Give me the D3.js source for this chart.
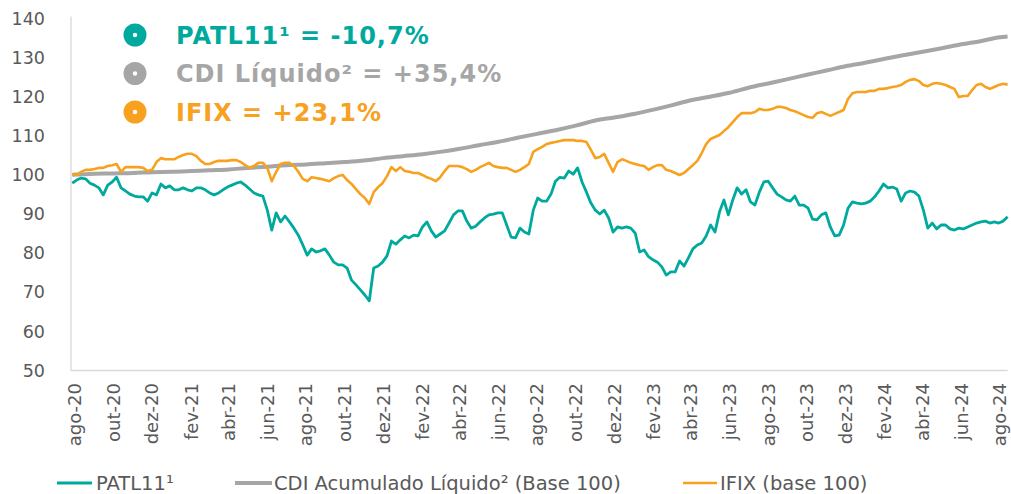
<!DOCTYPE html>
<html>
<head>
<meta charset="utf-8">
<script src="https://cdn.jsdelivr.net/npm/d3@7"></script>
<style>
  html, body { margin: 0; padding: 0; background: #ffffff; }
  svg { display: block; font-family: "DejaVu Sans", Verdana, sans-serif; }
</style>
</head>
<body>
<svg id="chart" width="1011" height="494"></svg>
<script>
// ---------------- DATA ----------------
// Weekly observations starting at this date (PATL11 and IFIX, base 100)
const weeklyStart = "2020-07-28";

const patlValues = [
  97.9,98.7,99.2,99.0,97.9,97.4,96.7,94.9,97.4,98.2,
  99.4,96.7,95.9,95.1,94.6,94.4,94.4,93.3,95.4,94.9,
  97.7,96.7,97.2,96.2,96.2,96.7,96.2,95.9,96.7,96.7,
  96.2,95.4,94.9,95.4,96.2,96.9,97.4,97.9,98.2,97.4,
  96.4,95.4,94.9,94.6,91.0,85.9,90.3,88.0,89.5,88.0,
  86.4,84.6,82.1,79.5,81.1,80.3,80.6,81.1,79.5,77.7,
  77.0,77.0,76.2,73.1,71.9,70.6,69.3,67.8,76.2,76.7,
  77.7,79.3,83.1,82.3,83.4,84.4,83.9,84.6,84.4,86.7,
  88.0,85.7,84.1,84.9,85.7,87.7,89.8,90.8,90.8,88.2,
  86.4,86.9,88.0,89.0,89.8,90.0,90.3,90.3,87.2,84.1,
  83.9,86.4,85.4,84.9,91.0,94.1,93.3,93.3,95.1,98.4,
  99.4,99.2,101.0,100.2,101.8,98.2,95.6,92.8,91.0,90.0,
  91.0,89.0,85.4,86.7,86.4,86.7,86.4,85.1,80.3,80.8,
  79.1,78.3,77.7,76.5,74.4,75.2,75.2,78.0,76.7,78.8,
  81.1,82.1,82.6,84.4,87.2,85.4,90.5,93.6,89.8,93.6,
  96.7,95.1,96.2,93.1,92.3,95.6,98.2,98.4,96.7,95.1,
  94.4,93.6,93.3,94.6,92.3,92.3,91.5,88.7,88.5,89.8,
  90.3,86.7,84.4,84.6,87.2,91.5,93.1,92.8,92.6,92.8,
  93.3,94.4,95.9,97.7,96.7,96.9,96.4,93.3,95.4,95.9,
  95.6,94.6,91.0,86.4,87.7,86.2,87.2,87.2,86.2,85.9,
  86.4,86.2,86.7,87.2,87.7,88.0,88.2,87.7,88.0,87.7,
  88.2,89.3
];

const ifixValues = [
  100.2,100.0,100.8,101.3,101.3,101.5,101.8,101.8,102.3,102.5,
  102.8,100.8,102.0,102.0,102.0,102.0,101.8,101.0,101.3,103.3,
  104.3,104.0,104.0,104.0,104.6,105.1,105.4,105.4,104.8,103.6,
  102.8,102.8,103.3,103.6,103.6,103.6,103.8,103.8,103.3,102.5,
  101.8,102.3,103.1,103.1,101.8,98.4,100.8,102.8,103.1,103.1,
  102.3,100.8,99.0,98.4,99.4,99.2,99.0,98.7,98.4,99.2,
  99.7,100.0,98.7,97.7,96.4,95.1,94.1,92.6,95.6,96.9,
  97.9,99.7,102.0,101.0,102.0,101.0,100.8,100.5,100.5,100.0,
  99.4,99.0,98.4,99.4,101.0,102.3,102.3,102.3,102.0,101.5,
  100.8,101.3,102.0,102.5,103.1,102.3,102.0,101.8,101.8,101.3,
  100.8,101.3,102.0,102.8,105.9,106.6,107.2,107.9,108.2,108.4,
  108.7,108.9,108.9,108.9,108.7,108.7,108.4,106.4,104.3,104.6,
  105.4,103.1,100.8,103.3,104.0,103.6,103.1,102.8,102.5,102.3,
  101.3,102.0,102.5,102.5,101.3,101.0,100.5,100.0,100.5,101.5,
  102.5,103.6,105.6,107.9,109.2,109.7,110.2,111.2,112.2,113.5,
  114.8,115.8,115.8,115.8,116.1,116.9,116.6,116.6,116.9,117.4,
  117.4,117.1,116.6,116.3,115.8,115.3,114.8,114.6,115.8,116.1,
  115.6,115.1,115.6,116.1,116.6,119.4,120.9,121.2,121.2,121.2,
  121.5,121.5,122.0,122.0,122.2,122.5,122.7,123.0,123.8,124.3,
  124.5,124.0,123.0,122.7,123.3,123.5,123.3,123.0,122.5,122.0,
  119.9,120.2,120.2,121.7,123.0,123.3,122.5,122.0,122.5,123.0,
  123.3,123.1
];

// CDI accumulated (net), monthly
const cdiDates = [
  "2020-07-28","2020-08-01","2020-09-01","2020-10-01","2020-11-01","2020-12-01",
  "2021-01-01","2021-02-01","2021-03-01","2021-04-01","2021-05-01","2021-06-01",
  "2021-07-01","2021-08-01","2021-09-01","2021-10-01","2021-11-01","2021-12-01",
  "2022-01-01","2022-02-01","2022-03-01","2022-04-01","2022-05-01","2022-06-01",
  "2022-07-01","2022-08-01","2022-09-01","2022-10-01","2022-11-01","2022-12-01",
  "2023-01-01","2023-02-01","2023-03-01","2023-04-01","2023-05-01","2023-06-01",
  "2023-07-01","2023-08-01","2023-09-01","2023-10-01","2023-11-01","2023-12-01",
  "2024-01-01","2024-02-01","2024-03-01","2024-04-01","2024-05-01","2024-06-01",
  "2024-07-01","2024-08-01","2024-08-13"
];
const cdiValues = [
  100.0,100.1,100.3,100.4,100.5,100.7,
  100.8,101.0,101.2,101.4,101.8,102.1,
  102.5,102.7,103.0,103.3,103.7,104.3,
  104.8,105.3,105.9,106.7,107.6,108.5,
  109.5,110.5,111.5,112.6,113.9,114.7,
  115.6,116.7,117.8,119.1,120.0,121.0,
  122.3,123.4,124.5,125.6,126.7,127.8,
  128.7,129.7,130.6,131.5,132.4,133.4,
  134.2,135.2,135.4
];

const yTicks = [50, 60, 70, 80, 90, 100, 110, 120, 130, 140];
const xTickDates = [
  "2020-08-01","2020-10-01","2020-12-01","2021-02-01","2021-04-01","2021-06-01",
  "2021-08-01","2021-10-01","2021-12-01","2022-02-01","2022-04-01","2022-06-01",
  "2022-08-01","2022-10-01","2022-12-01","2023-02-01","2023-04-01","2023-06-01",
  "2023-08-01","2023-10-01","2023-12-01","2024-02-01","2024-04-01","2024-06-01",
  "2024-08-01"
];
const xTickLabels = [
  "ago-20","out-20","dez-20","fev-21","abr-21","jun-21",
  "ago-21","out-21","dez-21","fev-22","abr-22","jun-22",
  "ago-22","out-22","dez-22","fev-23","abr-23","jun-23",
  "ago-23","out-23","dez-23","fev-24","abr-24","jun-24",
  "ago-24"
];

const seriesNames = ["PATL11¹", "CDI Acumulado Líquido² (Base 100)", "IFIX (base 100)"];
const highlightLabels = ["PATL11¹ = -10,7%", "CDI Líquido² = +35,4%", "IFIX = +23,1%"];
const colors = ["#00A99D", "#A6A6A6", "#F7A11E"];

// ---------------- CHART ----------------
(function () {
const parse = d3.timeParse("%Y-%m-%d");
const start = parse(weeklyStart);
const patl = patlValues.map((v, i) => ({ date: d3.timeDay.offset(start, i * 7), value: v }));
const ifix = ifixValues.map((v, i) => ({ date: d3.timeDay.offset(start, i * 7), value: v }));
const cdi = cdiValues.map((v, i) => ({ date: parse(cdiDates[i]), value: v }));

const svg = d3.select("#chart");
const mLeft = 71, mRight = 1007.6, mTop = 18.5, mBottom = 370.5;

const x = d3.scaleTime()
  .domain([parse("2020-07-26"), parse("2024-08-13")])
  .range([mLeft, mRight]);
const y = d3.scaleLinear().domain([50, 140]).range([mBottom, mTop]);

// axes lines
svg.append("line").attr("x1", mLeft).attr("x2", mLeft).attr("y1", mTop - 2).attr("y2", mBottom)
  .attr("stroke", "#D9D9D9").attr("stroke-width", 1.3);
svg.append("line").attr("x1", mLeft).attr("x2", mRight).attr("y1", mBottom).attr("y2", mBottom)
  .attr("stroke", "#D9D9D9").attr("stroke-width", 1.3);

// y tick labels
svg.append("g").selectAll("text").data(yTicks).join("text")
  .attr("x", 45).attr("y", d => y(d))
  .attr("dy", "0.35em")
  .attr("text-anchor", "end")
  .attr("font-size", 17.5)
  .attr("fill", "#595959")
  .text(d => d);

// x tick labels (rotated)
svg.append("g").selectAll("text").data(xTickDates).join("text")
  .attr("transform", d => `translate(${x(parse(d))},383) rotate(-90)`)
  .attr("dy", "0.35em")
  .attr("text-anchor", "end")
  .attr("font-size", 18)
  .attr("fill", "#595959")
  .text((d, i) => xTickLabels[i]);

const smooth = d3.line().x(d => x(d.date)).y(d => y(d.value)).curve(d3.curveMonotoneX);
const straight = d3.line().x(d => x(d.date)).y(d => y(d.value));

svg.append("path").datum(cdi).attr("d", smooth)
  .attr("fill", "none").attr("stroke", colors[1]).attr("stroke-width", 4)
  .attr("stroke-linejoin", "round");
svg.append("path").datum(ifix).attr("d", straight)
  .attr("fill", "none").attr("stroke", colors[2]).attr("stroke-width", 2.6)
  .attr("stroke-linejoin", "round");
svg.append("path").datum(patl).attr("d", straight)
  .attr("fill", "none").attr("stroke", colors[0]).attr("stroke-width", 2.8)
  .attr("stroke-linejoin", "round");

// highlight legend (top-left)
const hl = svg.append("g");
const hlY = [35, 73.5, 112];
highlightLabels.forEach((t, i) => {
  hl.append("circle").attr("cx", 135).attr("cy", hlY[i]).attr("r", 11.5).attr("fill", colors[i]);
  hl.append("circle").attr("cx", 135).attr("cy", hlY[i]).attr("r", 2.2).attr("fill", "#ffffff");
  hl.append("text").attr("x", 176).attr("y", hlY[i]).attr("dy", "0.36em")
    .attr("font-size", 24).attr("font-weight", "bold").attr("letter-spacing", 1)
    .attr("fill", colors[i]).text(t);
});

// bottom legend
const lg = svg.append("g");
const lgItems = [
  { x1: 57, x2: 92, tx: 96, w: 2.8 },
  { x1: 235, x2: 272, tx: 274, w: 4 },
  { x1: 683, x2: 717, tx: 720, w: 2.6 }
];
lgItems.forEach((it, i) => {
  lg.append("line").attr("x1", it.x1).attr("x2", it.x2).attr("y1", 483).attr("y2", 483)
    .attr("stroke", colors[i]).attr("stroke-width", it.w);
  lg.append("text").attr("x", it.tx).attr("y", 483).attr("dy", "0.36em")
    .attr("font-size", 19.5).attr("fill", "#595959").text(seriesNames[i]);
});
})();
</script>
</body>
</html>
